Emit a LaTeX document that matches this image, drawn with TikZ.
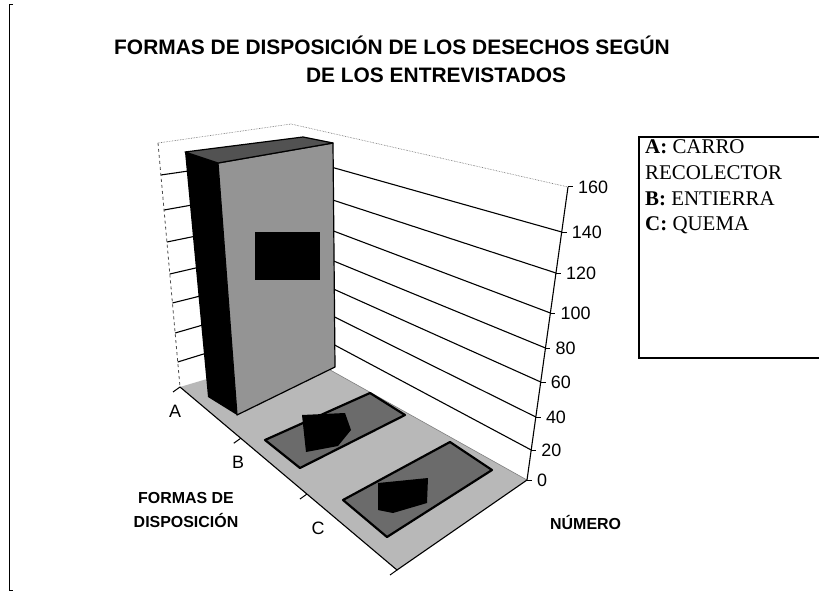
\documentclass[tikz,border=0pt]{standalone}
\usepackage{fontspec}
\setmainfont{Liberation Serif}
\newfontfamily\sansf{Liberation Sans}
\usetikzlibrary{calc}
\tikzset{
  titletext/.style={anchor=base west, inner sep=0pt, font=\sansf\bfseries\fontsize{21}{24}\selectfont},
  axistext/.style={inner sep=0pt, font=\sansf\fontsize{18}{21}\selectfont},
  axistitle/.style={inner sep=0pt, font=\sansf\bfseries\fontsize{16}{24}\selectfont},
  legendtext/.style={anchor=base west, inner sep=0pt, font=\fontsize{21}{25}\selectfont},
  gridline/.style={black, line width=1.1bp},
  walledge/.style={black!60, line width=0.6bp, densely dotted},
  flatbar/.style={fill=black!58, draw=black, line width=2.2bp, line join=round},
}
\begin{document}
\begin{tikzpicture}[x=1bp,y=-1bp]
\useasboundingbox (0,0) rectangle (819,594);
\fill[white] (0,0) rectangle (819,594);

% left page border
\draw[line width=0.8bp] (13,4) -- (9,4) -- (9,590) -- (13,590);

% level coordinates: right axis, back corner, left edge
\foreach \lab/\ry/\ky/\ly in {160/187/124/143,140/232/156/175,120/273/187/210,100/313/216/242,80/348/245/274,60/382/272/303,40/417/298/333,20/450/325/362,0/480/352/387}{
  \pgfmathsetmacro\rx{527+(480-\ry)*41/293}
  \pgfmathsetmacro\kx{291+(\ky-124)*7/228}
  \pgfmathsetmacro\lx{158+(\ly-143)*22/244}
  \coordinate (r\lab) at (\rx,\ry);
  \coordinate (k\lab) at (\kx,\ky);
  \coordinate (l\lab) at (\lx,\ly);
}

% gridlines on walls
\foreach \lab in {140,120,100,80,60,40,20}{
  \draw[gridline] (l\lab) -- (k\lab) -- (r\lab);
}
% wall top edges and left edge
\draw[walledge] (l160) -- (k160) -- (r160);
\draw[black!70, line width=0.8bp, dash pattern=on 3bp off 3bp] (l160) -- (l0);

% floor
\coordinate (F) at (397,570);
\fill[black!28] (l0) -- (F) -- (r0) -- (k0) -- cycle;
\draw[black!50, line width=0.6bp] (k0) -- (r0);
\draw[black, line width=1.1bp] (l0) -- (F) -- (r0);

% category ticks
\foreach \t in {0,0.28,0.585,1}{
  \draw[black, line width=1bp] ($(l0)!\t!(F)$) -- ++(-7,5);
}

% value axis
\draw[black, line width=1.1bp] (r160) -- (r0);
\foreach \lab in {160,140,120,100,80,60,40,20,0}{
  \draw[black, line width=1bp] (r\lab) -- ++(5,0);
  \node[axistext, anchor=west] (v\lab) at ($(r\lab)+(10,0)$) {\lab};
}

% bar A
\fill[black] (185,152) -- (218,163) -- (237,415) -- (208,397) -- cycle;
\filldraw[fill=black!42, draw=black, line width=1.2bp, line join=round] (218,163) -- (333,143) -- (335,367) -- (237,415) -- cycle;
\filldraw[fill=black!68, draw=black, line width=1.2bp, line join=round] (185,152) -- (303,137) -- (333,143) -- (218,163) -- cycle;
\fill[black] (255,232) rectangle (320,280);

% bar B
\filldraw[flatbar] (265,440) -- (370,393) -- (405,415) -- (300,468) -- cycle;
\fill[black] (302,415) -- (345,413) -- (351,430) -- (338,446) -- (306,452) -- cycle;
% bar C
\filldraw[flatbar] (343,500) -- (450,442) -- (492,470) -- (387,537) -- cycle;
\fill[black] (378,483) -- (428,478) -- (427,503) -- (393,513) -- (378,510) -- cycle;

% category labels
\node[axistext] (ca) at (175,411) {A};
\node[axistext] (cb) at (238,462) {B};
\node[axistext] (cc) at (318,528) {C};

% axis titles
\node[axistitle, align=center] (xt) at (186,510) {FORMAS DE\\DISPOSICIÓN};
\node[axistitle, anchor=west] (yt) at (550,523) {NÚMERO};

% title
\node[titletext] (t1) at (114,55) {FORMAS DE DISPOSICIÓN DE LOS DESECHOS SEGÚN};
\node[titletext, anchor=base] (t2) at (436,83) {DE LOS ENTREVISTADOS};

% legend
\draw[black, line width=2.2bp] (819,137) -- (639,137) -- (639,358) -- (819,358);
\node[legendtext] (la) at (645,154) {\textbf{A:} CARRO};
\node[legendtext] (lr) at (645,180) {RECOLECTOR};
\node[legendtext] (lb) at (645,205.5) {\textbf{B:} ENTIERRA};
\node[legendtext] (lc) at (645,231) {\textbf{C:} QUEMA};
\end{tikzpicture}
\end{document}
